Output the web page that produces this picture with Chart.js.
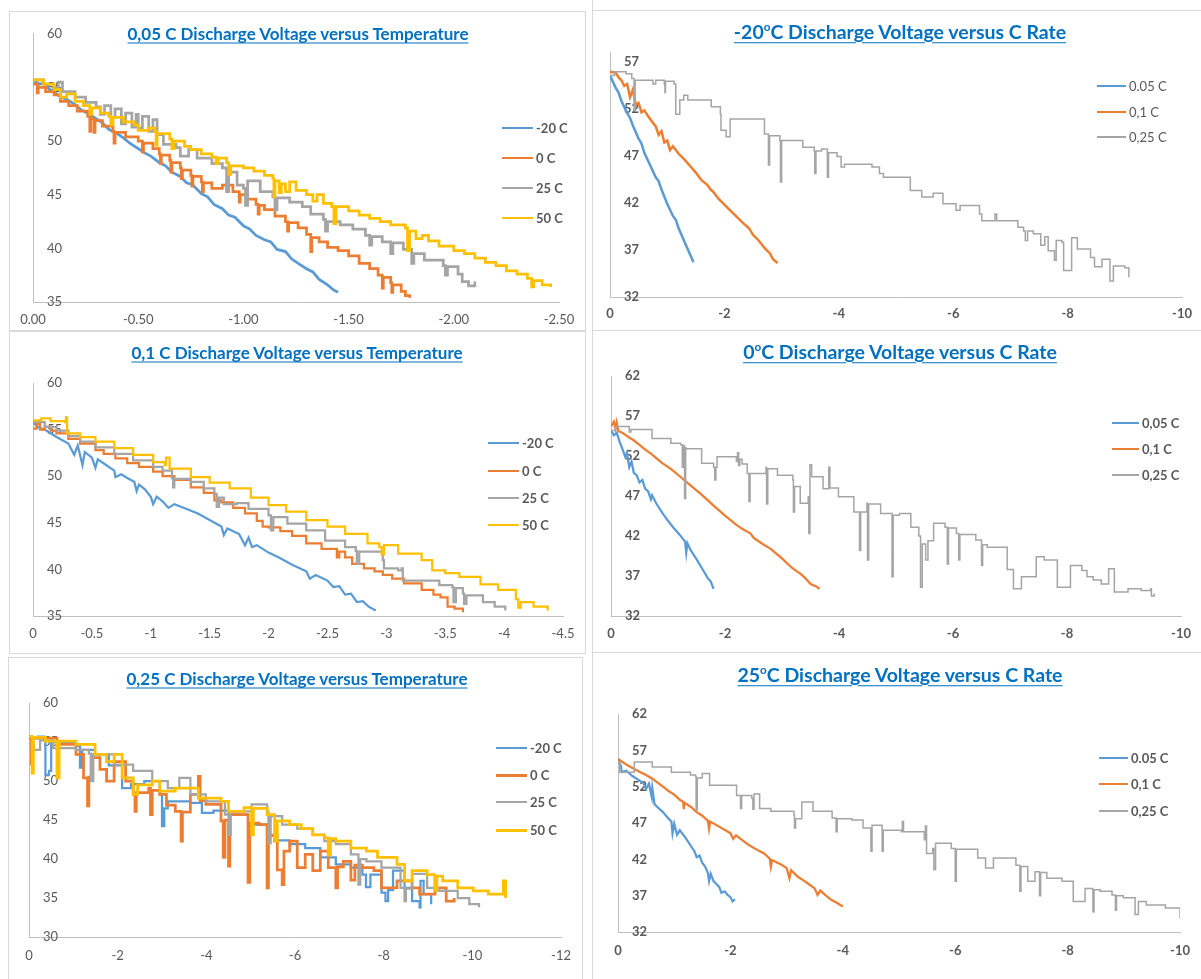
<!DOCTYPE html>
<html>
<head>
<meta charset="utf-8">
<script src="https://cdn.jsdelivr.net/npm/chart.js@4.4.1/dist/chart.umd.min.js"></script>
<style>
  body { margin: 0; background: #fff; }
  #page { position: relative; width: 1201px; height: 979px; overflow: hidden; font-family: Lato, "Open Sans", sans-serif; }
  canvas { position: absolute; }
  .box { position: absolute; border: 1px solid #d9d9d9; box-sizing: border-box; }
  .line { position: absolute; background: #d9d9d9; }
  .title { position: absolute; transform: translate(-50%, -50%); white-space: nowrap; color: #0070c0;
           font-weight: bold; text-decoration: underline; text-underline-offset: 3px; }
  .title sup { font-size: 0.6em; }
  .lg { position: absolute; display: flex; align-items: center; transform: translateY(-50%);
        font-size: 13px; color: #595959; white-space: nowrap; }
  .lg i { display: inline-block; margin-right: 3px; }
</style>
</head>
<body>
<div id="page">
  <div class="box" style="left:9px;top:11px;width:577px;height:320px"></div>
  <div class="box" style="left:9px;top:331px;width:577px;height:323px"></div>
  <div class="box" style="left:8px;top:657px;width:575px;height:340px"></div>
  <div class="line" style="left:592px;top:0;width:1px;height:979px"></div>
  <div class="line" style="left:592px;top:10px;width:609px;height:1px"></div>
  <div class="line" style="left:592px;top:330px;width:609px;height:1px"></div>
  <div class="line" style="left:592px;top:652px;width:609px;height:1px"></div>
</div>
<script>
// ---- ticks ----
const p1XTicks = [0, -0.5, -1, -1.5, -2, -2.5];
const p1YTicks = [35, 40, 45, 50, 55, 60];
const p3XTicks = [0, -0.5, -1, -1.5, -2, -2.5, -3, -3.5, -4, -4.5];
const p3YTicks = [35, 40, 45, 50, 55, 60];
const p5XTicks = [0, -2, -4, -6, -8, -10, -12];
const p5YTicks = [30, 35, 40, 45, 50, 55, 60];
const rateXTicks = [0, -2, -4, -6, -8, -10];
const p2YTicks = [32, 37, 42, 47, 52, 57];
const p4YTicks = [32, 37, 42, 47, 52, 57, 62];
const p6YTicks = [32, 37, 42, 47, 52, 57, 62];

// ---- series labels ----
const tempLabels = ["-20 C", "0 C", "25 C", "50 C"];
const p2Labels = ["0.05 C", "0,1 C", "0,25 C"];
const p4Labels = ["0,05 C", "0,1 C", "0,25 C"];
const p6Labels = ["0.05 C", "0,1 C", "0,25 C"];

// ---- 0,05 C vs temperature ----
const p1Minus20 = [[0,55.7],[-0.03,55.3],[-0.05,55.4],[-0.08,54.8],[-0.1,54.6],[-0.13,54.1],[-0.16,53.9],[-0.2,53.4],[-0.23,52.9],[-0.26,52.6],[-0.3,52.1],[-0.33,51.7],[-0.36,51.1],[-0.4,50.7],[-0.43,50.3],[-0.46,49.8],[-0.5,49.3],[-0.53,48.9],[-0.56,48.6],[-0.6,48.0],[-0.63,47.7],[-0.66,47.1],[-0.7,46.7],[-0.73,46.1],[-0.76,45.9],[-0.8,45.1],[-0.83,44.8],[-0.86,44.1],[-0.9,43.7],[-0.93,43.1],[-0.96,42.9],[-1.0,42.1],[-1.03,41.8],[-1.06,41.2],[-1.1,40.8],[-1.13,40.6],[-1.16,39.9],[-1.2,39.7],[-1.23,39.0],[-1.26,38.6],[-1.3,38.1],[-1.33,37.8],[-1.36,37.1],[-1.4,36.6],[-1.43,36.1],[-1.45,35.9]];
const p1Zero = [[0,55.3],[-0.02,54.5],[-0.025,55.0],[-0.06,54.6],[-0.1,54.3],[-0.13,53.7],[-0.17,53.3],[-0.21,52.8],[-0.26,52.3],[-0.27,50.9],[-0.275,52.1],[-0.29,50.8],[-0.295,51.9],[-0.33,51.4],[-0.38,50.9],[-0.385,49.8],[-0.39,50.8],[-0.44,50.4],[-0.5,50.0],[-0.52,49.0],[-0.525,49.8],[-0.57,49.3],[-0.6,48.8],[-0.605,47.9],[-0.61,48.7],[-0.65,48.2],[-0.655,47.1],[-0.66,48.0],[-0.7,47.5],[-0.705,46.5],[-0.71,47.3],[-0.75,46.8],[-0.755,45.8],[-0.76,46.7],[-0.8,46.2],[-0.805,45.3],[-0.81,46.1],[-0.85,45.6],[-0.9,45.9],[-0.95,45.3],[-0.98,44.3],[-0.985,45.0],[-1.02,44.6],[-1.06,44.1],[-1.07,43.2],[-1.075,44.0],[-1.1,43.6],[-1.15,43.0],[-1.2,42.5],[-1.21,41.6],[-1.215,42.4],[-1.26,41.9],[-1.3,41.3],[-1.32,39.7],[-1.325,41.0],[-1.36,40.6],[-1.4,40.1],[-1.45,39.8],[-1.5,39.3],[-1.55,38.6],[-1.6,38.1],[-1.64,37.5],[-1.66,36.3],[-1.665,37.3],[-1.7,36.8],[-1.705,35.9],[-1.71,36.6],[-1.75,36.0],[-1.77,35.6],[-1.79,35.4]];
const p1TwentyFive = [[0,55.7],[-0.05,55.3],[-0.1,55.0],[-0.12,55.5],[-0.14,54.6],[-0.2,54.1],[-0.25,53.6],[-0.3,53.2],[-0.32,52.5],[-0.34,53.3],[-0.37,52.2],[-0.39,53.0],[-0.42,51.6],[-0.44,52.6],[-0.47,51.3],[-0.49,52.5],[-0.5,51.2],[-0.52,52.3],[-0.55,50.9],[-0.57,52.0],[-0.59,50.6],[-0.62,49.7],[-0.68,49.4],[-0.7,48.6],[-0.74,49.2],[-0.78,48.4],[-0.85,47.9],[-0.9,47.5],[-0.92,45.3],[-0.93,47.1],[-0.97,45.9],[-1.0,45.6],[-1.01,44.0],[-1.02,46.3],[-1.08,45.3],[-1.14,44.8],[-1.15,43.6],[-1.16,44.7],[-1.22,44.3],[-1.28,43.9],[-1.32,43.2],[-1.38,42.7],[-1.39,41.6],[-1.4,42.5],[-1.46,42.2],[-1.52,41.8],[-1.58,41.2],[-1.6,40.3],[-1.61,41.1],[-1.66,40.6],[-1.7,39.5],[-1.71,40.5],[-1.76,39.9],[-1.8,38.6],[-1.81,39.5],[-1.86,38.9],[-1.9,38.9],[-1.95,38.4],[-1.96,37.5],[-1.97,38.3],[-2.02,37.6],[-2.04,36.9],[-2.07,36.5],[-2.1,36.9]];
const p1Fifty = [[0,55.7],[-0.05,55.3],[-0.1,54.8],[-0.13,54.1],[-0.16,54.4],[-0.2,53.7],[-0.24,53.3],[-0.27,52.5],[-0.28,53.1],[-0.32,52.6],[-0.36,52.3],[-0.37,51.5],[-0.38,52.2],[-0.43,51.8],[-0.48,51.5],[-0.5,51.0],[-0.55,51.2],[-0.58,50.9],[-0.585,49.6],[-0.59,50.7],[-0.65,50.2],[-0.66,49.3],[-0.67,50.0],[-0.72,49.5],[-0.75,49.2],[-0.8,48.8],[-0.85,48.5],[-0.87,47.9],[-0.88,48.4],[-0.92,48.0],[-0.93,46.9],[-0.94,47.7],[-1.0,47.5],[-1.05,47.2],[-1.1,46.8],[-1.14,46.5],[-1.145,44.8],[-1.15,46.3],[-1.17,45.2],[-1.18,46.0],[-1.2,45.3],[-1.22,46.2],[-1.25,45.4],[-1.3,45.0],[-1.33,44.4],[-1.35,45.0],[-1.38,44.2],[-1.42,43.9],[-1.43,42.3],[-1.44,43.9],[-1.5,43.5],[-1.55,43.1],[-1.6,42.8],[-1.65,42.5],[-1.7,42.2],[-1.77,41.9],[-1.78,39.8],[-1.79,41.6],[-1.82,40.9],[-1.85,41.2],[-1.88,40.7],[-1.93,40.2],[-2.0,39.8],[-2.05,39.5],[-2.1,39.1],[-2.15,38.7],[-2.2,38.4],[-2.25,37.9],[-2.3,37.6],[-2.35,37.2],[-2.37,36.4],[-2.38,37.0],[-2.42,36.6],[-2.46,36.4]];

// ---- -20 C vs C rate ----
const p2Rate005 = [[0,55.5],[-0.1,54.2],[-0.15,53.7],[-0.2,52.8],[-0.3,51.5],[-0.35,51.0],[-0.4,50.2],[-0.5,48.8],[-0.55,48.3],[-0.6,47.3],[-0.7,46.0],[-0.8,44.7],[-0.85,44.3],[-0.9,43.4],[-1.0,41.9],[-1.1,40.6],[-1.15,40.2],[-1.2,39.3],[-1.3,37.9],[-1.4,36.5],[-1.46,35.7]];
const p2Rate01 = [[0,55.9],[-0.1,55.8],[-0.15,55.3],[-0.2,55.0],[-0.25,54.4],[-0.3,54.6],[-0.35,53.2],[-0.4,54.0],[-0.45,52.4],[-0.5,52.6],[-0.55,51.6],[-0.6,51.8],[-0.7,50.9],[-0.8,50.1],[-0.85,49.2],[-0.9,49.6],[-0.95,48.4],[-1.0,48.6],[-1.05,47.6],[-1.1,48.0],[-1.2,47.2],[-1.3,46.6],[-1.4,45.9],[-1.5,45.2],[-1.6,44.4],[-1.7,43.9],[-1.76,43.4],[-1.8,43.2],[-1.9,42.4],[-2.0,41.8],[-2.1,41.2],[-2.2,40.6],[-2.3,40.0],[-2.43,39.3],[-2.5,38.6],[-2.6,38.0],[-2.7,37.2],[-2.8,36.6],[-2.85,36.0],[-2.93,35.6]];
const p2Rate025 = [[0,55.5],[-0.08,55.9],[-0.28,55.7],[-0.38,55.2],[-0.42,51.8],[-0.44,55.0],[-0.75,54.6],[-0.8,55.0],[-0.95,54.6],[-0.96,53.7],[-0.97,54.9],[-1.12,54.6],[-1.15,51.4],[-1.22,52.9],[-1.29,53.4],[-1.36,52.9],[-1.77,52.2],[-1.93,51.4],[-1.94,49.7],[-2.03,49.0],[-2.1,50.9],[-2.7,49.3],[-2.77,46.0],[-2.79,49.1],[-2.97,48.6],[-2.98,44.2],[-3.0,48.6],[-3.37,47.9],[-3.57,47.5],[-3.58,45.1],[-3.6,47.5],[-3.7,47.7],[-3.8,44.7],[-3.82,47.3],[-3.97,46.9],[-4.04,45.8],[-4.1,46.1],[-4.58,45.8],[-4.71,45.1],[-4.78,44.7],[-5.25,43.3],[-5.45,42.6],[-5.65,43.0],[-5.82,41.9],[-6.05,41.2],[-6.12,41.7],[-6.46,40.8],[-6.5,40.1],[-6.73,40.8],[-6.76,40.1],[-7.13,39.4],[-7.23,39.0],[-7.26,38.0],[-7.3,39.0],[-7.4,38.7],[-7.53,37.5],[-7.6,38.4],[-7.66,36.9],[-7.77,35.9],[-7.8,38.0],[-7.9,37.8],[-7.93,34.8],[-8.07,38.3],[-8.17,37.1],[-8.4,36.2],[-8.47,35.2],[-8.6,36.0],[-8.74,33.7],[-8.8,35.3],[-9.0,35.1],[-9.07,34.1]];

// ---- 0,1 C vs temperature ----
const p3Minus20 = [[0,55.8],[-0.05,55.2],[-0.1,55.0],[-0.2,54.2],[-0.3,53.5],[-0.35,52.3],[-0.38,53.3],[-0.42,51.2],[-0.44,52.6],[-0.5,52.0],[-0.53,50.9],[-0.55,51.8],[-0.62,51.2],[-0.69,50.6],[-0.7,49.9],[-0.75,50.2],[-0.8,49.8],[-0.86,49.4],[-0.88,48.4],[-0.9,49.1],[-0.95,48.6],[-1.0,47.8],[-1.02,47.0],[-1.05,47.8],[-1.1,47.3],[-1.15,46.6],[-1.2,47.0],[-1.3,46.5],[-1.4,46.0],[-1.5,45.3],[-1.6,44.6],[-1.62,43.7],[-1.65,44.4],[-1.75,43.8],[-1.8,42.6],[-1.83,43.4],[-1.86,42.4],[-1.9,42.6],[-2.0,41.8],[-2.1,41.2],[-2.2,40.5],[-2.32,39.8],[-2.35,39.0],[-2.4,39.4],[-2.5,38.8],[-2.55,38.1],[-2.6,38.2],[-2.65,37.3],[-2.7,37.4],[-2.75,36.5],[-2.8,36.6],[-2.85,36.0],[-2.91,35.6]];
const p3Zero = [[0,55.1],[-0.03,55.6],[-0.06,55.0],[-0.1,55.3],[-0.15,54.9],[-0.2,54.6],[-0.3,54.0],[-0.4,53.5],[-0.53,52.8],[-0.6,52.4],[-0.7,51.9],[-0.8,51.4],[-0.9,51.0],[-1.02,50.5],[-1.1,50.0],[-1.2,49.6],[-1.34,48.8],[-1.45,48.2],[-1.54,47.4],[-1.6,47.2],[-1.7,46.6],[-1.8,46.0],[-1.9,45.2],[-1.95,44.6],[-2.0,44.5],[-2.1,44.1],[-2.2,43.6],[-2.32,42.8],[-2.45,42.2],[-2.58,41.3],[-2.6,41.9],[-2.65,41.3],[-2.71,40.6],[-2.81,40.1],[-2.9,39.8],[-2.97,39.4],[-3.05,39.0],[-3.15,38.5],[-3.3,37.8],[-3.4,37.3],[-3.46,37.0],[-3.52,36.0],[-3.58,35.8],[-3.65,35.4]];
const p3TwentyFive = [[0,55.8],[-0.1,55.3],[-0.2,54.9],[-0.3,54.3],[-0.4,53.7],[-0.53,53.1],[-0.69,52.4],[-0.85,51.7],[-1.02,51.0],[-1.1,50.6],[-1.18,49.8],[-1.19,48.8],[-1.2,49.7],[-1.34,49.4],[-1.45,48.7],[-1.54,48.1],[-1.56,46.7],[-1.58,47.7],[-1.62,47.0],[-1.73,47.1],[-1.83,46.5],[-2.0,45.8],[-2.02,44.2],[-2.04,45.6],[-2.16,44.9],[-2.32,44.2],[-2.48,43.1],[-2.65,42.4],[-2.74,42.0],[-2.75,40.6],[-2.77,41.9],[-2.97,41.0],[-2.98,40.1],[-3.1,39.9],[-3.13,40.1],[-3.14,38.8],[-3.3,38.8],[-3.45,38.3],[-3.56,38.1],[-3.57,36.5],[-3.59,38.0],[-3.65,37.4],[-3.66,36.3],[-3.68,37.2],[-3.82,36.5],[-3.92,36.0],[-4.01,35.6]];
const p3Fifty = [[0,56.0],[-0.07,56.2],[-0.15,55.9],[-0.27,55.8],[-0.28,56.3],[-0.29,54.6],[-0.4,54.2],[-0.53,53.7],[-0.69,53.0],[-0.85,52.3],[-1.02,51.5],[-1.12,51.2],[-1.13,52.0],[-1.16,50.8],[-1.34,49.9],[-1.5,49.3],[-1.67,48.7],[-1.85,47.7],[-2.0,46.9],[-2.15,46.2],[-2.32,45.3],[-2.5,44.6],[-2.65,43.8],[-2.84,42.8],[-2.94,42.4],[-2.96,41.6],[-2.98,42.6],[-3.1,41.7],[-3.3,41.0],[-3.39,39.9],[-3.5,39.6],[-3.62,39.2],[-3.8,38.4],[-3.95,37.8],[-4.1,36.8],[-4.12,35.9],[-4.14,36.5],[-4.25,36.0],[-4.37,35.6]];

// ---- 0 C vs C rate ----
const p4Rate005 = [[0,55.2],[-0.05,54.6],[-0.1,54.9],[-0.15,53.8],[-0.2,52.9],[-0.25,51.9],[-0.28,52.4],[-0.32,50.6],[-0.36,51.3],[-0.4,49.9],[-0.45,49.6],[-0.5,48.7],[-0.55,49.0],[-0.6,47.9],[-0.65,47.6],[-0.7,46.6],[-0.72,47.1],[-0.8,46.0],[-0.9,44.9],[-1.0,43.9],[-1.1,43.0],[-1.15,42.6],[-1.2,42.2],[-1.3,41.3],[-1.32,39.9],[-1.34,41.1],[-1.4,40.2],[-1.5,39.1],[-1.6,37.9],[-1.7,36.7],[-1.75,36.3],[-1.8,35.4]];
const p4Rate01 = [[0,55.7],[-0.05,56.3],[-0.08,55.4],[-0.1,56.2],[-0.13,55.1],[-0.2,54.9],[-0.3,54.4],[-0.39,54.0],[-0.5,53.4],[-0.6,52.8],[-0.7,52.3],[-0.8,51.7],[-0.9,51.1],[-1.05,50.4],[-1.2,49.5],[-1.4,48.3],[-1.6,47.1],[-1.8,45.8],[-1.99,44.6],[-2.2,43.4],[-2.3,42.9],[-2.45,42.3],[-2.5,41.8],[-2.66,41.0],[-2.8,40.4],[-2.9,39.8],[-3.0,39.2],[-3.1,38.5],[-3.2,37.9],[-3.32,37.3],[-3.4,36.8],[-3.5,36.0],[-3.6,35.7],[-3.66,35.4]];
const p4Rate025 = [[0,55.2],[-0.08,55.7],[-0.32,55.0],[-0.35,55.3],[-0.72,54.2],[-1.05,53.6],[-1.22,53.4],[-1.25,50.6],[-1.27,53.3],[-1.29,46.7],[-1.31,53.0],[-1.32,52.9],[-1.59,51.1],[-1.8,50.6],[-1.82,49.0],[-1.84,50.6],[-1.86,51.9],[-2.2,51.3],[-2.22,52.4],[-2.24,50.8],[-2.26,51.6],[-2.3,51.0],[-2.39,49.8],[-2.42,46.3],[-2.44,49.8],[-2.72,50.6],[-2.73,46.0],[-2.75,50.4],[-2.92,49.6],[-3.19,49.0],[-3.2,45.0],[-3.22,48.2],[-3.32,46.1],[-3.46,46.9],[-3.47,42.3],[-3.49,50.9],[-3.52,49.4],[-3.72,47.9],[-3.82,50.6],[-3.84,48.0],[-3.99,46.9],[-4.26,45.0],[-4.36,40.2],[-4.38,45.0],[-4.49,46.1],[-4.5,39.0],[-4.52,46.0],[-4.73,44.8],[-4.93,36.9],[-4.95,44.6],[-5.06,44.8],[-5.26,43.1],[-5.4,42.0],[-5.43,35.6],[-5.46,41.0],[-5.52,39.0],[-5.56,41.4],[-5.66,43.6],[-5.86,43.1],[-5.9,38.5],[-5.92,43.0],[-6.06,42.3],[-6.1,39.0],[-6.12,42.2],[-6.4,41.5],[-6.5,38.3],[-6.52,40.9],[-6.6,40.6],[-6.93,40.6],[-6.95,37.8],[-7.06,35.4],[-7.2,36.9],[-7.46,39.4],[-7.6,39.0],[-7.73,39.0],[-7.83,35.6],[-8.06,38.3],[-8.26,37.7],[-8.35,36.9],[-8.46,36.5],[-8.6,36.0],[-8.73,37.9],[-8.83,35.0],[-9.07,35.4],[-9.3,35.2],[-9.47,35.4],[-9.48,34.5],[-9.53,34.8]];

// ---- 0,25 C vs temperature ----
const p5Minus20 = [[0,55.5],[-0.2,55.7],[-0.35,55.2],[-0.37,50.8],[-0.45,51.3],[-0.5,55.0],[-1.06,54.5],[-1.15,51.7],[-1.2,54.0],[-1.49,53.4],[-1.8,52.0],[-2.1,49.1],[-2.3,49.6],[-2.6,50.0],[-2.95,48.3],[-3.0,44.2],[-3.05,46.5],[-3.13,47.4],[-3.64,47.2],[-3.9,45.9],[-4.16,46.2],[-4.5,45.7],[-4.94,44.4],[-5.37,43.1],[-5.6,42.4],[-5.88,41.9],[-6.23,41.4],[-6.57,40.2],[-6.92,39.3],[-7.26,38.9],[-7.52,38.0],[-7.6,36.4],[-7.7,38.0],[-7.95,35.7],[-8.04,34.6],[-8.1,36.0],[-8.21,38.5],[-8.47,36.3],[-8.64,34.6],[-8.81,33.8],[-8.83,37.2],[-8.9,35.5],[-9.07,34.2]];
const p5Zero = [[0,55.7],[-0.05,52.2],[-0.08,55.5],[-0.63,54.7],[-1.06,53.4],[-1.23,50.4],[-1.32,46.8],[-1.35,50.5],[-1.4,53.0],[-1.6,51.5],[-1.75,50.0],[-1.92,52.5],[-2.18,50.0],[-2.35,48.3],[-2.39,46.1],[-2.42,48.5],[-2.7,49.1],[-2.74,45.7],[-2.78,48.8],[-2.95,48.3],[-3.1,46.9],[-3.3,46.1],[-3.43,42.3],[-3.46,46.0],[-3.64,48.3],[-3.82,50.6],[-3.86,47.5],[-3.99,47.0],[-4.33,44.9],[-4.38,40.2],[-4.42,45.0],[-4.5,39.1],[-4.53,45.7],[-4.85,45.7],[-4.94,37.0],[-4.98,44.6],[-5.19,44.4],[-5.37,36.3],[-5.4,43.0],[-5.54,42.3],[-5.6,38.6],[-5.71,36.7],[-5.75,41.0],[-5.88,42.3],[-6.05,38.9],[-6.23,40.6],[-6.4,38.5],[-6.57,41.0],[-6.75,38.9],[-6.92,36.3],[-6.96,39.0],[-7.09,39.7],[-7.26,37.3],[-7.35,39.2],[-7.52,38.9],[-7.78,38.5],[-7.95,36.3],[-8.3,37.2],[-8.64,36.3],[-8.81,35.5],[-9.16,36.3],[-9.41,34.6],[-9.59,35.0]];
const p5TwentyFive = [[0,54.7],[-0.11,54.0],[-0.25,55.2],[-0.54,54.2],[-1.06,54.0],[-1.35,53.5],[-1.4,50.0],[-1.45,53.4],[-1.58,53.4],[-1.92,52.1],[-2.35,51.3],[-2.78,50.0],[-3.13,49.1],[-3.39,50.4],[-3.64,48.3],[-3.99,47.4],[-4.42,45.7],[-4.5,43.1],[-4.55,46.0],[-4.68,46.1],[-5.02,47.0],[-5.37,46.1],[-5.4,42.0],[-5.45,45.5],[-5.71,44.4],[-6.05,43.9],[-6.4,43.1],[-6.66,42.3],[-6.92,41.9],[-7.26,40.6],[-7.43,36.7],[-7.47,40.0],[-7.61,39.7],[-7.95,38.9],[-8.38,36.3],[-8.47,34.6],[-8.5,36.2],[-8.64,38.1],[-8.98,36.3],[-9.24,35.9],[-9.67,35.0],[-9.93,34.2],[-10.15,33.8]];
const p5Fifty = [[0,55.7],[-0.07,51.0],[-0.1,55.6],[-0.37,55.1],[-0.63,50.4],[-0.68,55.1],[-1.06,54.7],[-1.49,53.4],[-1.75,52.5],[-1.92,53.4],[-2.1,50.4],[-2.35,48.3],[-2.45,49.5],[-2.78,50.0],[-2.95,48.7],[-3.3,49.1],[-3.82,47.8],[-4.33,47.4],[-4.5,46.1],[-4.85,46.6],[-5.02,43.1],[-5.06,46.5],[-5.37,45.7],[-5.54,42.3],[-5.6,44.9],[-5.88,44.4],[-6.14,43.9],[-6.4,43.1],[-6.66,42.7],[-6.75,40.5],[-6.8,42.6],[-6.92,42.3],[-7.26,41.4],[-7.61,41.0],[-7.86,40.2],[-8.3,39.3],[-8.47,37.2],[-8.64,38.5],[-8.98,38.0],[-9.15,36.0],[-9.2,37.8],[-9.33,37.2],[-9.67,36.3],[-10.02,35.9],[-10.36,35.5],[-10.7,37.2],[-10.75,35.0]];

// ---- 25 C vs C rate ----
const p6Rate005 = [[0,55.6],[-0.05,54.9],[-0.07,54.0],[-0.15,54.2],[-0.25,53.5],[-0.35,53.0],[-0.45,52.5],[-0.5,51.7],[-0.55,52.4],[-0.6,50.6],[-0.61,51.8],[-0.65,49.6],[-0.7,49.2],[-0.8,48.5],[-0.9,47.6],[-0.95,47.2],[-0.97,45.6],[-1.0,46.9],[-1.05,45.4],[-1.1,46.0],[-1.2,45.0],[-1.3,43.8],[-1.36,43.1],[-1.4,42.3],[-1.45,42.5],[-1.5,41.5],[-1.55,41.0],[-1.6,40.1],[-1.62,39.0],[-1.65,40.0],[-1.7,39.0],[-1.75,38.6],[-1.8,38.2],[-1.84,37.4],[-1.9,37.6],[-1.95,37.1],[-2.0,36.8],[-2.04,36.2],[-2.08,36.5]];
const p6Rate01 = [[0,55.8],[-0.1,55.3],[-0.2,54.8],[-0.3,54.4],[-0.4,54.0],[-0.5,53.6],[-0.61,53.1],[-0.7,52.6],[-0.8,52.0],[-0.9,51.4],[-1.0,50.9],[-1.1,50.2],[-1.16,49.9],[-1.17,48.9],[-1.18,49.8],[-1.3,49.2],[-1.4,48.5],[-1.5,48.0],[-1.6,47.3],[-1.62,46.2],[-1.64,47.2],[-1.8,46.5],[-2.0,45.6],[-2.05,44.8],[-2.1,45.3],[-2.32,44.0],[-2.5,43.2],[-2.6,42.8],[-2.7,42.1],[-2.72,41.0],[-2.74,41.9],[-2.9,41.3],[-3.0,40.8],[-3.05,39.4],[-3.08,40.5],[-3.2,39.6],[-3.3,39.1],[-3.41,38.5],[-3.5,38.0],[-3.55,37.1],[-3.6,37.7],[-3.7,37.0],[-3.8,36.4],[-3.9,36.0],[-4.0,35.5]];
const p6Rate025 = [[0,55.4],[-0.03,54.0],[-0.27,54.0],[-0.29,55.4],[-0.61,54.7],[-0.95,54.0],[-1.29,53.6],[-1.38,53.4],[-1.39,48.8],[-1.41,53.2],[-1.5,53.8],[-1.63,52.2],[-2.11,50.8],[-2.18,49.0],[-2.2,50.8],[-2.38,50.4],[-2.4,48.9],[-2.42,51.0],[-2.52,49.0],[-2.72,48.6],[-3.13,48.1],[-3.14,46.3],[-3.16,47.6],[-3.27,49.9],[-3.47,48.6],[-3.81,47.7],[-3.88,45.8],[-3.9,47.6],[-4.16,47.4],[-4.36,46.3],[-4.5,43.1],[-4.52,46.7],[-4.56,46.7],[-4.7,43.1],[-4.72,46.0],[-5.04,45.8],[-5.06,47.2],[-5.08,45.8],[-5.45,44.7],[-5.47,46.6],[-5.49,42.8],[-5.6,43.5],[-5.62,40.6],[-5.65,44.2],[-5.93,43.5],[-6.0,39.0],[-6.02,43.4],[-6.4,42.2],[-6.54,40.8],[-6.68,42.2],[-7.08,41.2],[-7.15,37.6],[-7.17,41.0],[-7.29,39.0],[-7.42,40.3],[-7.5,37.0],[-7.52,40.2],[-7.63,39.4],[-7.9,39.0],[-8.1,36.2],[-8.31,38.0],[-8.45,34.8],[-8.47,37.8],[-8.58,37.6],[-8.79,37.1],[-8.85,35.0],[-8.87,37.0],[-8.99,36.7],[-9.2,34.4],[-9.26,36.2],[-9.4,35.7],[-9.74,35.3],[-10.0,33.9]];

const BLUE = "#5B9BD5", ORANGE = "#ED7D31", GRAY = "#A5A5A5", YELLOW = "#FFC000";
const page = document.getElementById("page");

function xy(pairs) {
  return pairs.map(p => ({ x: p[0], y: p[1] }));
}

function addTitle(html, cx, cy, size) {
  const t = document.createElement("div");
  t.className = "title";
  t.innerHTML = html;
  t.style.left = cx + "px";
  t.style.top = cy + "px";
  t.style.fontSize = size + "px";
  page.appendChild(t);
}

function addLegend(labels, colors, widths, x, ys, swatch, bold) {
  labels.forEach((label, i) => {
    const row = document.createElement("div");
    row.className = "lg";
    row.style.left = x + "px";
    row.style.top = ys[i] + "px";
    row.style.fontWeight = bold ? "bold" : "normal";
    row.innerHTML = `<i style="width:${swatch}px;height:${widths[i]}px;background:${colors[i]}"></i>${label}`;
    page.appendChild(row);
  });
}

function makePanel(p) {
  const cv = document.createElement("canvas");
  cv.width = p.w;
  cv.height = p.h;
  cv.style.left = p.left + "px";
  cv.style.top = p.top + "px";
  page.appendChild(cv);

  const tickFont = { family: "Lato", size: 13, weight: p.bold ? "bold" : "normal" };
  const n = p.series.length;

  new Chart(cv, {
    type: "line",
    data: {
      datasets: p.series.map((s, i) => ({
        label: p.labels[i],
        data: xy(s),
        borderColor: p.colors[i],
        borderWidth: p.widths[i],
        pointRadius: 0,
        stepped: p.stepped[i] ? "before" : false,
        tension: 0,
        fill: false,
        order: n - i
      }))
    },
    options: {
      responsive: false,
      animation: false,
      devicePixelRatio: 1,
      events: [],
      layout: { padding: { left: p.pad[0], top: p.pad[1], right: p.pad[2], bottom: 0 } },
      plugins: { legend: { display: false }, tooltip: { enabled: false }, title: { display: false } },
      scales: {
        x: {
          type: "linear",
          min: p.xTicks[p.xTicks.length - 1],
          max: 0,
          reverse: true,
          grid: { display: false, drawTicks: false },
          border: { display: true, color: "#bfbfbf" },
          afterBuildTicks: s => { s.ticks = p.xTicks.map(v => ({ value: v })); },
          afterFit: s => { s.height = p.xh; },
          ticks: { padding: p.xpad, color: "#595959", font: tickFont, maxRotation: 0, callback: v => p.fmt(v) }
        },
        y: {
          type: "linear",
          min: p.yMin,
          max: p.yMax,
          grid: { display: false, drawTicks: false },
          border: { display: true, color: "#bfbfbf" },
          afterBuildTicks: s => { s.ticks = p.yTicks.map(v => ({ value: v })); },
          afterFit: s => { s.width = 0; },
          ticks: { mirror: true, padding: 14, color: "#595959", font: tickFont }
        }
      }
    }
  });
}

const fmt2 = v => (v === 0 ? "0.00" : v.toFixed(2));
const fmtPlain = v => (v === 0 ? "0" : String(v));
const tempColors = [BLUE, ORANGE, GRAY, YELLOW];
const rateColors = [BLUE, ORANGE, GRAY];

// 0,05 C vs temperature
makePanel({ left: 9, top: 12, w: 576, h: 318, pad: [24, 12, 26], xh: 28, xpad: 10,
  xTicks: p1XTicks, yTicks: p1YTicks, yMin: 35, yMax: 60, fmt: fmt2, bold: false,
  series: [p1Minus20, p1Zero, p1TwentyFive, p1Fifty], labels: tempLabels, colors: tempColors,
  widths: [2.75, 2.75, 2.75, 2.75], stepped: [false, true, true, true] });
addTitle("0,05 C Discharge Voltage versus Temperature", 298, 33, 17);
addLegend(tempLabels, tempColors, [2, 2, 2, 2], 502, [128, 158, 188, 218], 31, true);

// -20 C vs C rate
makePanel({ left: 593, top: 11, w: 608, h: 319, pad: [17, 41, 18], xh: 33, xpad: 9,
  xTicks: rateXTicks, yTicks: p2YTicks, yMin: 32, yMax: 58, fmt: fmtPlain, bold: true,
  series: [p2Rate005, p2Rate01, p2Rate025], labels: p2Labels, colors: rateColors,
  widths: [2.5, 2.5, 1.5], stepped: [false, false, true] });
addTitle("-20<sup>o</sup>C Discharge Voltage versus C Rate", 900, 31, 19.5);
addLegend(p2Labels, rateColors, [2, 2, 1.5], 1097, [86, 112, 137], 29, false);

// 0,1 C vs temperature
makePanel({ left: 9, top: 332, w: 576, h: 320, pad: [24, 51, 22], xh: 36, xpad: 10,
  xTicks: p3XTicks, yTicks: p3YTicks, yMin: 35, yMax: 60, fmt: fmtPlain, bold: false,
  series: [p3Minus20, p3Zero, p3TwentyFive, p3Fifty], labels: tempLabels, colors: tempColors,
  widths: [2.25, 2.25, 2.25, 2.25], stepped: [false, true, true, true] });
addTitle("0,1 C Discharge Voltage versus Temperature", 297, 352, 17);
addLegend(tempLabels, tempColors, [2.5, 2, 2.5, 2], 488, [443, 471, 498, 525], 31, true);

// 0 C vs C rate
makePanel({ left: 593, top: 331, w: 608, h: 321, pad: [18, 45, 14], xh: 36, xpad: 10,
  xTicks: rateXTicks, yTicks: p4YTicks, yMin: 32, yMax: 62, fmt: fmtPlain, bold: true,
  series: [p4Rate005, p4Rate01, p4Rate025], labels: p4Labels, colors: rateColors,
  widths: [2.25, 2.25, 1.5], stepped: [false, false, true] });
addTitle("0<sup>o</sup>C Discharge Voltage versus C Rate", 900, 351, 19.5);
addLegend(p4Labels, rateColors, [2, 2.5, 1.5], 1112, [423, 449, 475], 27, true);

// 0,25 C vs temperature
makePanel({ left: 9, top: 658, w: 573, h: 321, pad: [20, 45, 17], xh: 42, xpad: 11,
  xTicks: p5XTicks, yTicks: p5YTicks, yMin: 30, yMax: 60, fmt: fmtPlain, bold: false,
  series: [p5Minus20, p5Zero, p5TwentyFive, p5Fifty], labels: tempLabels, colors: tempColors,
  widths: [2.25, 2.75, 2.25, 2.75], stepped: [true, true, true, true] });
addTitle("0,25 C Discharge Voltage versus Temperature", 297, 678, 17);
addLegend(tempLabels, tempColors, [2, 3, 2, 3], 496, [748, 775, 802, 830], 31, true);

// 25 C vs C rate
makePanel({ left: 593, top: 653, w: 608, h: 326, pad: [25, 61, 18], xh: 47, xpad: 11,
  xTicks: rateXTicks, yTicks: p6YTicks, yMin: 32, yMax: 62, fmt: fmtPlain, bold: true,
  series: [p6Rate005, p6Rate01, p6Rate025], labels: p6Labels, colors: rateColors,
  widths: [2.25, 2.25, 1.5], stepped: [false, false, true] });
addTitle("25<sup>o</sup>C Discharge Voltage versus C Rate", 900, 674, 19.5);
addLegend(p6Labels, rateColors, [2, 2, 1.5], 1099, [758, 784, 811], 29, true);
</script>
</body>
</html>
